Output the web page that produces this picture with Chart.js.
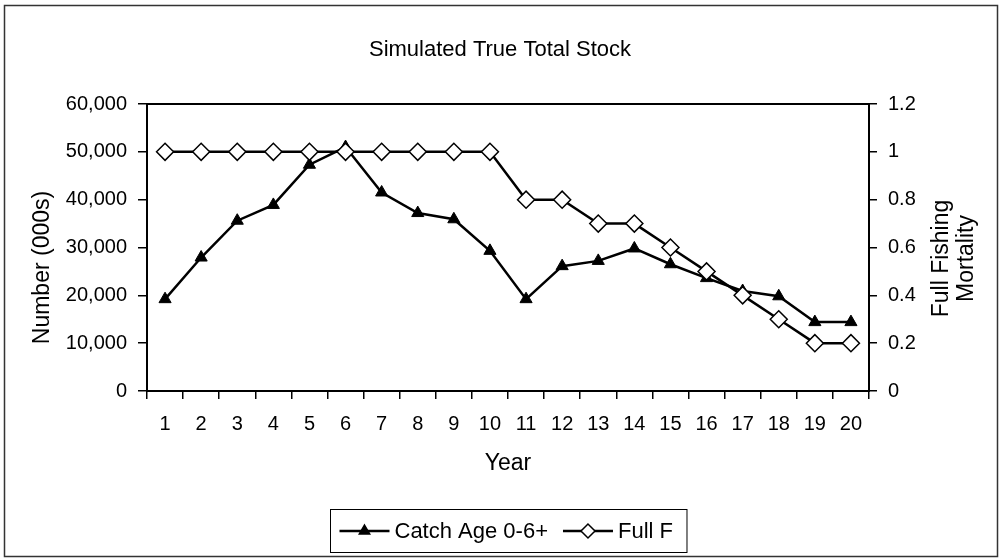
<!DOCTYPE html>
<html>
<head>
<meta charset="utf-8">
<script src="https://cdn.jsdelivr.net/npm/chart.js@4.4.1/dist/chart.umd.min.js"></script>
<style>
	body { margin: 0; background: #fff; }
	#wrap { width: 1000px; height: 560px; }
</style>
</head>
<body>
<div id="wrap"><canvas id="stockChart" width="1000" height="560"></canvas></div>
<script>
const years = ['1', '2', '3', '4', '5', '6', '7', '8', '9', '10',
	'11', '12', '13', '14', '15', '16', '17', '18', '19', '20'];
const catchAge = [19200, 27900, 35600, 38900, 47300, 51000, 41500, 37200, 35900, 29300,
	19200, 26100, 27200, 29800, 26500, 23600, 20900, 19800, 14400, 14400];
const fullF = [1, 1, 1, 1, 1, 1, 1, 1, 1, 1,
	0.8, 0.8, 0.7, 0.7, 0.6, 0.5, 0.4, 0.3, 0.2, 0.2];
const leftTitle = 'Number (000s)';
const rightTitle = ['Full Fishing', 'Mortality'];

const FONT = '"Liberation Sans", Arial, sans-serif';

// frame round the whole chart, box round plot area, axis titles and legend
const framePlugin = {
	id: 'frame',
	beforeDraw(chart) {
		const c = chart.ctx;
		c.save();
		c.fillStyle = '#fff';
		c.fillRect(0, 0, chart.width, chart.height);
		c.strokeStyle = '#333';
		c.lineWidth = 1.5;
		c.strokeRect(4.5, 5.5, chart.width - 7, chart.height - 9);
		c.restore();
	},
	afterDraw(chart) {
		const c = chart.ctx;
		const a = chart.chartArea;
		c.save();
		c.strokeStyle = '#000';
		c.lineWidth = 2;
		c.strokeRect(a.left, a.top, a.right - a.left, a.bottom - a.top);

		// y axis titles, both reading bottom to top
		const mid = (a.top + a.bottom) / 2;
		c.font = '23px ' + FONT;
		c.fillStyle = '#000';
		c.textAlign = 'center';
		c.textBaseline = 'middle';
		c.save();
		c.translate(chart.scales.y.left + 43, mid + 20);
		c.rotate(-Math.PI / 2);
		c.fillText(leftTitle, 0, 0);
		c.restore();
		const y1 = chart.scales.y1;
		rightTitle.forEach((t, i) => {
			c.save();
			c.translate(y1.right - 58 + i * 25, mid + 11);
			c.rotate(-Math.PI / 2);
			c.fillText(t, 0, 0);
			c.restore();
		});

		// legend
		const ds = chart.data.datasets;
		c.font = '22px ' + FONT;
		c.textAlign = 'left';
		const lineLen = 50, gapText = 5, gapItem = 15, padL = 9, padR = 14;
		const widths = ds.map(d => c.measureText(d.label).width);
		let total = padL + padR;
		widths.forEach((w, i) => { total += lineLen + gapText + w + (i ? gapItem : 0); });
		const bx = Math.round(chart.width / 2 - total / 2 + 8) + 0.5;
		const by = 509.5, bh = 43;
		c.strokeStyle = '#000';
		c.lineWidth = 1;
		c.strokeRect(bx, by, total, bh);
		const my = by + bh / 2;
		let x = bx + padL;
		ds.forEach((d, i) => {
			if (i) x += gapItem;
			c.strokeStyle = '#000';
			c.lineWidth = 2.5;
			c.beginPath();
			c.moveTo(x, my);
			c.lineTo(x + lineLen, my);
			c.stroke();
			c.fillStyle = d.pointBackgroundColor;
			c.lineWidth = 1.5;
			Chart.helpers.drawPoint(c, {
				pointStyle: d.pointStyle,
				radius: d.pointStyle === 'triangle' ? 6 : 7,
				rotation: 0,
				borderWidth: 1.5
			}, x + lineLen / 2, my);
			c.fillStyle = '#000';
			c.fillText(d.label, x + lineLen + gapText, my + 1);
			x += lineLen + gapText + widths[i];
		});
		c.restore();
	}
};

const ctx = document.getElementById('stockChart').getContext('2d');
const chart = new Chart(ctx, {
	type: 'line',
	data: {
		labels: years,
		datasets: [{
			label: 'Catch Age 0-6+',
			data: catchAge,
			yAxisID: 'y',
			borderColor: '#000',
			borderWidth: 2.5,
			pointStyle: 'triangle',
			pointRadius: 7,
			pointBackgroundColor: '#000',
			pointBorderColor: '#000',
			pointBorderWidth: 1,
			tension: 0,
			order: 1
		}, {
			label: 'Full F',
			data: fullF,
			yAxisID: 'y1',
			borderColor: '#000',
			borderWidth: 2.5,
			pointStyle: 'rectRot',
			pointRadius: 8.5,
			pointBackgroundColor: '#fff',
			pointBorderColor: '#000',
			pointBorderWidth: 1.5,
			tension: 0,
			order: 0
		}]
	},
	options: {
		responsive: false,
		animation: false,
		layout: { padding: { left: 0, right: 0, top: 0, bottom: 79 } },
		plugins: {
			legend: { display: false },
			tooltip: { enabled: false },
			title: {
				display: true,
				text: 'Simulated True Total Stock',
				color: '#000',
				font: { family: FONT, size: 22, weight: 'normal' },
				padding: { top: 37, bottom: 40.6 }
			}
		},
		scales: {
			x: {
				offset: true,
				grid: { display: true, offset: true, drawOnChartArea: false, color: '#000', tickLength: 8, lineWidth: 1.5 },
				border: { display: true, color: '#000', width: 2 },
				ticks: { color: '#000', font: { family: FONT, size: 20 }, padding: 13, maxRotation: 0, autoSkip: false },
				title: { display: true, text: 'Year', color: '#000', font: { family: FONT, size: 23 }, padding: { top: 0, bottom: 4 } },
				afterFit(s) { s.height = 90; }
			},
			y: {
				position: 'left',
				min: 0,
				max: 60000,
				grid: { display: true, drawOnChartArea: false, color: '#000', tickLength: 9, lineWidth: 1.5 },
				border: { display: true, color: '#000', width: 2 },
				ticks: {
					stepSize: 10000,
					color: '#000',
					font: { family: FONT, size: 20 },
					padding: 11,
					callback: v => v.toLocaleString('en-US')
				},
				afterFit(s) { s.width = 147; }
			},
			y1: {
				position: 'right',
				min: 0,
				max: 1.2,
				grid: { display: true, drawOnChartArea: false, color: '#000', tickLength: 8, lineWidth: 1.5 },
				border: { display: true, color: '#000', width: 2 },
				ticks: {
					stepSize: 0.2,
					color: '#000',
					font: { family: FONT, size: 20 },
					padding: 11,
					callback: v => String(Math.round(v * 10) / 10)
				},
				afterFit(s) { s.width = 131; }
			}
		}
	},
	plugins: [framePlugin]
});
</script>
</body>
</html>
